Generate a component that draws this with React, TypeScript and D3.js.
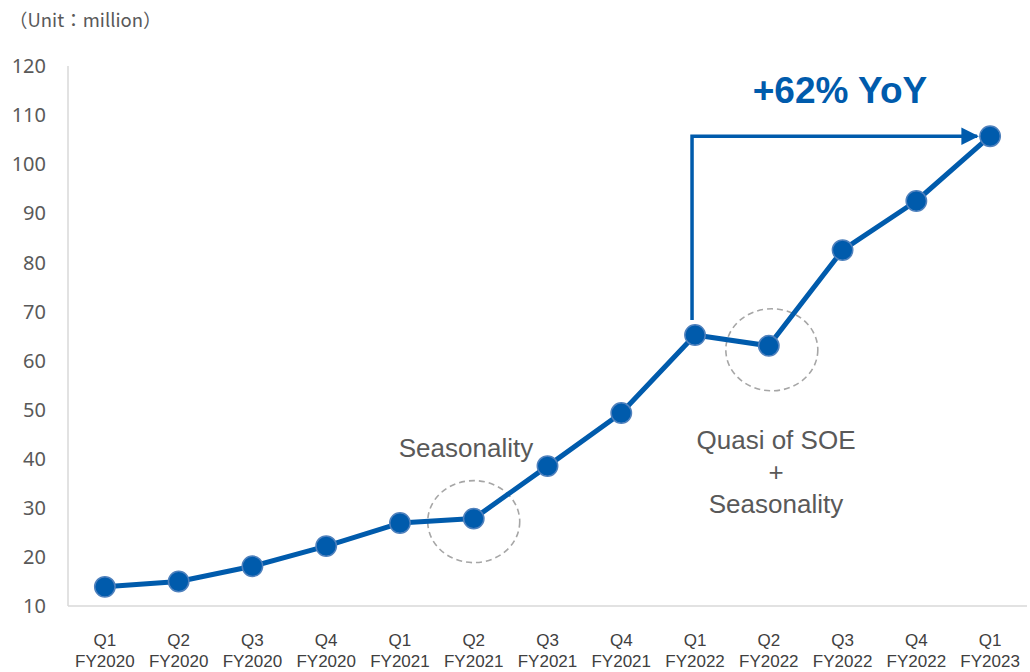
import React from "react";
import * as d3 from "d3";

// Quarterly totals, in millions
const quarters = ["Q1", "Q2", "Q3", "Q4", "Q1", "Q2", "Q3", "Q4", "Q1", "Q2", "Q3", "Q4", "Q1"];
const fiscalYears = ["FY2020", "FY2020", "FY2020", "FY2020", "FY2021", "FY2021", "FY2021", "FY2021", "FY2022", "FY2022", "FY2022", "FY2022", "FY2023"];
const values = [13.9, 15.0, 18.1, 22.2, 26.9, 27.8, 38.5, 49.3, 65.2, 63.0, 82.5, 92.5, 105.7];
const yTicks = [10, 20, 30, 40, 50, 60, 70, 80, 90, 100, 110, 120];

const BLUE = "#005BAC";
const GRAY_TEXT = "#595959";
const AXIS = "#D9D9D9";

const W = 1030;
const H = 672;

export default function App() {
  const keys = quarters.map((_, i) => String(i));
  const x = d3.scaleBand<string>().domain(keys).range([68, 1027]);
  const y = d3.scaleLinear().domain([10, 120]).range([606, 66]);
  const cx = (i: number) => (x(String(i)) ?? 0) + x.bandwidth() / 2;

  const line = d3
    .line<number>()
    .x((_, i) => cx(i))
    .y((d) => y(d));

  const yoyFrom = 8;
  const yoyTo = 12;

  return (
    <svg
      width={W}
      height={H}
      style={{ position: "absolute", left: 0, top: 0, background: "#fff" }}
      fontFamily="'Liberation Sans', Arial, sans-serif"
    >
      <defs>
        <marker id="arrowHead" viewBox="0 0 10 10" refX="9" refY="5" markerWidth="5" markerHeight="5" orient="auto" markerUnits="strokeWidth">
          <path d="M0,0 L10,5 L0,10 Z" fill={BLUE} />
        </marker>
      </defs>

      <text x={9} y={27} fontSize={18.5} fill={GRAY_TEXT} fontFamily="'Noto Sans CJK JP', 'Noto Sans', sans-serif">
        （Unit：million）
      </text>

      {/* axes */}
      <line x1={68} x2={68} y1={y(120)} y2={y(10)} stroke={AXIS} strokeWidth={1.5} />
      <line x1={68} x2={1027} y1={y(10)} y2={y(10)} stroke={AXIS} strokeWidth={1.5} />

      {yTicks.map((t) => (
        <text key={t} x={46} y={y(t)} dy="0.36em" textAnchor="end" fontSize={20} fill={GRAY_TEXT} fontFamily="'Noto Sans', sans-serif">
          {t}
        </text>
      ))}

      {quarters.map((q, i) => (
        <g key={i} fontSize={17} fill="#404040" textAnchor="middle">
          <text x={cx(i)} y={646}>{q}</text>
          <text x={cx(i)} y={667}>{fiscalYears[i]}</text>
        </g>
      ))}

      {/* highlight rings */}
      <ellipse cx={cx(5)} cy={y(values[5]) + 3} rx={46} ry={41} fill="none" stroke="#A6A6A6" strokeWidth={1.6} strokeDasharray="6 4" />
      <ellipse cx={cx(9) + 3} cy={y(values[9]) + 4} rx={46} ry={41} fill="none" stroke="#A6A6A6" strokeWidth={1.6} strokeDasharray="6 4" />

      {/* YoY arrow */}
      <path
        d={`M${cx(yoyFrom) - 3},${y(values[yoyFrom]) - 15} V${y(values[yoyTo])} H${cx(yoyTo) - 13}`}
        fill="none"
        stroke={BLUE}
        strokeWidth={3.5}
        markerEnd="url(#arrowHead)"
      />
      <text x={840} y={103} textAnchor="middle" fontSize={37} fontWeight="bold" fill={BLUE}>
        +62% YoY
      </text>

      <path d={line(values) ?? ""} fill="none" stroke={BLUE} strokeWidth={5} strokeLinejoin="round" />
      {values.map((v, i) => (
        <circle key={i} cx={cx(i)} cy={y(v)} r={10.2} fill={BLUE} stroke="#4F81BD" strokeWidth={1.5} />
      ))}

      <g fontSize={26} fill={GRAY_TEXT} textAnchor="middle">
        <text x={466} y={457}>Seasonality</text>
        <text x={776} y={449}>Quasi of SOE</text>
        <text x={776} y={481}>+</text>
        <text x={776} y={513}>Seasonality</text>
      </g>
    </svg>
  );
}
